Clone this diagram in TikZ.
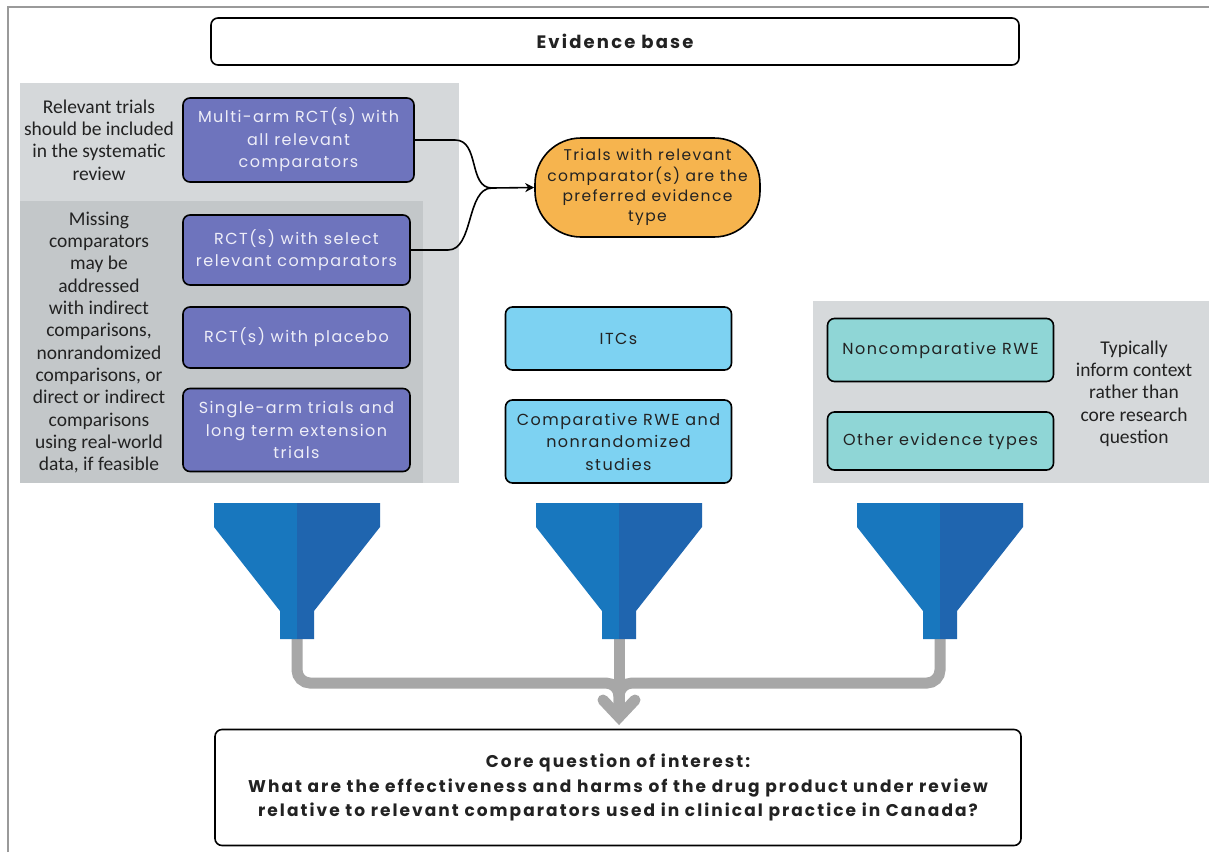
\documentclass[tikz,border=0pt]{standalone}
\usepackage{fontspec}
\setmainfont{Carlito}
\newfontfamily\boxfont[LetterSpace=9]{Poppins}
\newfontfamily\headfont[LetterSpace=12]{Poppins}
\usetikzlibrary{arrows.meta}
\definecolor{purp}{HTML}{6E74BD}
\definecolor{purptext}{HTML}{EEEEF8}
\definecolor{lblue}{HTML}{7DD2F2}
\definecolor{tealbox}{HTML}{8FD6D6}
\definecolor{orangebox}{HTML}{F6B44E}
\definecolor{panelA}{HTML}{D5D8DA}
\definecolor{panelB}{HTML}{C3C7C9}
\definecolor{panelC}{HTML}{D6D9DB}
\definecolor{funA}{HTML}{1877BE}
\definecolor{funB}{HTML}{1F65AF}
\definecolor{pipegray}{HTML}{A7A7A7}
\definecolor{framegray}{HTML}{9A9A9A}
\definecolor{ink}{HTML}{222222}
\tikzset{
  box/.style={draw=black, line width=1.6pt, rounded corners=7pt, align=center, inner sep=0pt,
    text=ink, font=\boxfont\fontsize{16}{22.5}\selectfont},
  purplebox/.style={box, fill=purp, text=purptext, minimum width=227pt},
  bluebox/.style={box, fill=lblue, minimum width=226pt},
  tealnode/.style={box, fill=tealbox, minimum width=226pt},
  whitebox/.style={box, fill=white, font=\headfont\bfseries\fontsize{17}{24.5}\selectfont},
  note/.style={align=center, inner sep=0pt, text=ink, font=\fontsize{19.5}{22.3}\selectfont},
  conn/.style={draw=black, line width=1.6pt},
  pipe/.style={draw=pipegray, line width=11pt, rounded corners=13pt},
}
\begin{document}
\begin{tikzpicture}[x=1pt,y=-1pt]
\useasboundingbox (0,0) rectangle (1209,852);
\fill[white] (0,0) rectangle (1209,852);
% frame
\draw[framegray, line width=1.2pt] (8,852) -- (8,7) -- (1209,7);
% panels
\fill[panelA] (20,83) rectangle (459,483);
\fill[panelB] (20,201) rectangle (423,483);
\fill[panelC] (813,301) rectangle (1209,483);

\node[whitebox, minimum width=808pt, minimum height=47pt, font=\headfont\bfseries\fontsize{18}{24}\selectfont] (evid) at (615,41.5) {Evidence base};

\node[note] (t1) at (99,140) {Relevant trials\\should be included\\in the systematic\\review};
\node[note] (t2) at (99,342.5) {Missing\\comparators\\may be\\addressed\\with indirect\\comparisons,\\nonrandomized\\comparisons, or\\direct or indirect\\comparisons\\using real-world\\data, if feasible};

\node[purplebox, minimum width=231pt, minimum height=84pt] (b1) at (298.5,140) {Multi-arm RCT(s) with\\all relevant\\comparators};
\node[purplebox, minimum height=70pt] (b2) at (296.5,250) {RCT(s) with select\\relevant comparators};
\node[purplebox, minimum height=61pt] (b3) at (296.5,337.5) {RCT(s) with placebo};
\node[purplebox, minimum height=83pt] (b4) at (296.5,430) {Single-arm trials and\\long term extension\\trials};

\node[box, fill=orangebox, rounded corners=46pt, minimum width=225pt, minimum height=99pt,
  font=\boxfont\fontsize{15.5}{20.3}\selectfont] (pref) at (647.5,187.5)
  {Trials with relevant\\comparator(s) are the\\preferred evidence\\type};

\coordinate (m) at (492,188);
\draw[conn] (b1.east) -- (455,140) .. controls (480,140) and (468,188) .. (m);
\draw[conn] (b2.east) -- (448,250) .. controls (474,250) and (466,188) .. (m);
\draw[conn, -{Stealth[length=9pt,width=9pt]}] (m) -- (pref.west);

\node[bluebox, minimum height=63pt] (itc) at (618.5,338.5) {ITCs};
\node[bluebox, minimum height=83pt] (comp) at (618.5,441.5) {Comparative RWE and\\nonrandomized\\studies};

\node[tealnode, minimum height=63pt] (nc) at (940.5,350) {Noncomparative RWE};
\node[tealnode, minimum height=58pt] (oth) at (940.5,441) {Other evidence types};
\node[note] (t3) at (1134,393.5) {Typically\\inform context\\rather than\\core research\\question};

\node[whitebox, minimum width=806pt, minimum height=116pt] (core) at (618,787.5)
  {Core question of interest:\\What are the effectiveness and harms of the drug product under review\\relative to relevant comparators used in clinical practice in Canada?};

% pipes
\coordinate (f1) at (297,636);
\coordinate (f2) at (619,636);
\coordinate (f3) at (940,636);
\coordinate (bar) at (619,683);
\coordinate (join) at (619,704);
\coordinate (tip) at (619,717);
\coordinate (hl) at (603,700);
\coordinate (hr) at (635,700);
\draw[pipe] (f1) |- (bar) -- (join);
\draw[pipe] (f3) |- (bar) -- (join);
\draw[pipe] (f2) -- (tip);
\draw[pipe, rounded corners=0pt, line cap=round, line join=miter] (hl) -- (tip) -- (hr);

% funnels
\foreach \cx in {297,619,940}{
  \fill[funA] (\cx-83,503) -- (\cx,503) -- (\cx,639) -- (\cx-17,639) -- (\cx-17,611) -- (\cx-83,527) -- cycle;
  \fill[funB] (\cx+83,503) -- (\cx,503) -- (\cx,639) -- (\cx+17,639) -- (\cx+17,611) -- (\cx+83,527) -- cycle;
}
\end{tikzpicture}
\end{document}
